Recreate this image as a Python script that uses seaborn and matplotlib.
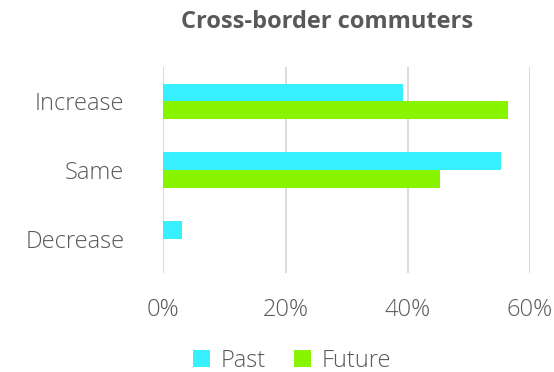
import matplotlib
matplotlib.use("Agg")
import matplotlib.pyplot as plt
from matplotlib.patches import Patch
from matplotlib.ticker import FuncFormatter
import pandas as pd
import seaborn as sns

categories = ["Increase", "Same", "Decrease"]
past = [39.2, 55.2, 3.1]
future = [56.4, 45.2, 0.0]
series = ["Past", "Future"]
colors = ["#36F0FF", "#88F400"]
xticks = [0, 20, 40, 60]

df = pd.DataFrame({
    "category": categories * 2,
    "value": past + future,
    "series": [series[0]] * len(categories) + [series[1]] * len(categories),
})

sns.set_theme(style="white")
plt.rcParams["font.family"] = ["Open Sans", "DejaVu Sans"]
text_color = "#595959"

fig = plt.figure(figsize=(5.54, 3.72), dpi=100)
ax = fig.add_axes([0.2948, 0.2661, 0.9567 - 0.2948, 0.8199 - 0.2661])

sns.barplot(data=df, y="category", x="value", hue="series", order=categories,
            hue_order=series, palette=colors, width=0.51, orient="h",
            saturation=1, linewidth=0, ax=ax, legend=False)

ax.set_xlim(0, 60)
ax.set_xticks(xticks)
ax.xaxis.set_major_formatter(FuncFormatter(lambda v, _: f"{v:.0f}%"))
ax.grid(axis="x", color="#d9d9d9", linewidth=1.3)
ax.set_axisbelow(True)
for s in ax.spines.values():
    s.set_visible(False)
ax.set_xlabel("")
ax.set_ylabel("")
ax.tick_params(axis="both", length=0, labelsize=17, colors=text_color)
ax.tick_params(axis="x", pad=18)
ax.tick_params(axis="y", pad=28)
for lbl in ax.get_xticklabels() + ax.get_yticklabels():
    lbl.set_fontweight("light")

fig.text(0.591, 0.942, "Cross-border commuters", ha="center", va="center",
         fontsize=17, fontweight="bold", color=text_color)

handles = [Patch(facecolor=c, edgecolor="none") for c in colors]
leg = fig.legend(handles, series, loc="center", bbox_to_anchor=(0.527, 0.03),
                 ncol=2, frameon=False, fontsize=17, handlelength=0.72,
                 handleheight=0.72, handletextpad=0.45, columnspacing=1.2)
for t in leg.get_texts():
    t.set_color(text_color)
    t.set_fontweight("light")

fig.savefig("out.png", dpi=100)
